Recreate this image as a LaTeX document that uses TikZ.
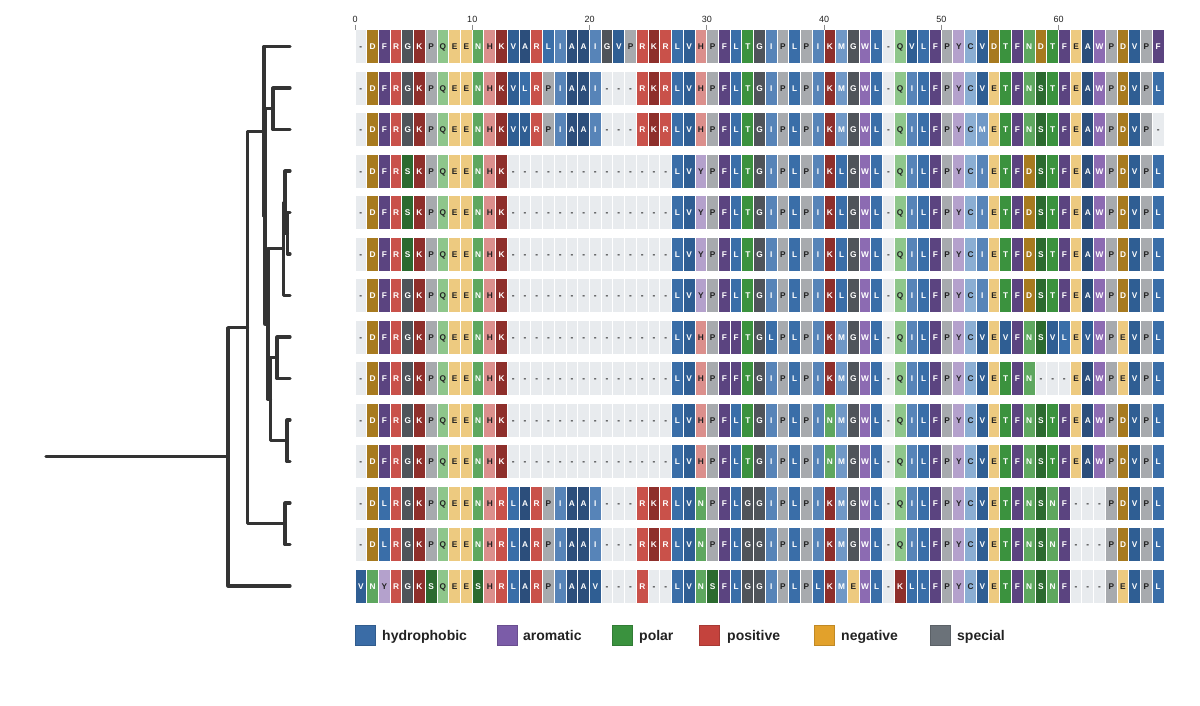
\documentclass[tikz,border=0pt]{standalone}
\usepackage{fontspec}
\setmainfont{Liberation Sans}
\definecolor{cA}{HTML}{2C4E7B}
\definecolor{cV}{HTML}{2F5E93}
\definecolor{cL}{HTML}{3A6EA8}
\definecolor{cI}{HTML}{5784B8}
\definecolor{cM}{HTML}{7098C6}
\definecolor{cC}{HTML}{8BAED3}
\definecolor{cF}{HTML}{5B4480}
\definecolor{cW}{HTML}{8C6BB2}
\definecolor{cY}{HTML}{B4A1CC}
\definecolor{cT}{HTML}{3B923E}
\definecolor{cS}{HTML}{2B6A2F}
\definecolor{cN}{HTML}{5EA75F}
\definecolor{cQ}{HTML}{8EC68B}
\definecolor{cR}{HTML}{C9514A}
\definecolor{cK}{HTML}{8E2F2B}
\definecolor{cH}{HTML}{DB8F8C}
\definecolor{cD}{HTML}{A77A1F}
\definecolor{cE}{HTML}{EDCA80}
\definecolor{cG}{HTML}{4F545A}
\definecolor{cP}{HTML}{A7AAAE}
\definecolor{cGap}{HTML}{E8EBEE}
\definecolor{txtdark}{HTML}{222222}
\definecolor{treecol}{HTML}{333333}
\definecolor{lgHyd}{HTML}{3A6CA6}
\definecolor{lgAro}{HTML}{7B5CA8}
\definecolor{lgPol}{HTML}{3A923E}
\definecolor{lgPos}{HTML}{C4433D}
\definecolor{lgNeg}{HTML}{E2A12B}
\definecolor{lgSpe}{HTML}{6B7279}
\newcount\colidx
\def\setres#1#2#3{\expandafter\def\csname rf#1\endcsname{#2}\expandafter\def\csname rt#1\endcsname{#3}}
\setres{A}{cA}{white}\setres{V}{cV}{white}\setres{L}{cL}{white}\setres{I}{cI}{white}
\setres{M}{cM}{white}\setres{C}{cC}{txtdark}\setres{F}{cF}{white}\setres{W}{cW}{white}
\setres{Y}{cY}{txtdark}\setres{T}{cT}{white}\setres{S}{cS}{white}\setres{N}{cN}{white}
\setres{Q}{cQ}{txtdark}\setres{R}{cR}{white}\setres{K}{cK}{white}\setres{H}{cH}{txtdark}
\setres{D}{cD}{white}\setres{E}{cE}{txtdark}\setres{G}{cG}{white}\setres{P}{cP}{txtdark}
\setres{-}{cGap}{txtdark}
\newcommand\seqcell[3]{%
  \pgfmathsetmacro\cx{355+#2*11.725}%
  \pgfmathsetmacro\cy{30+(#1-1)*41.5}%
  \edef\cf{\csname rf#3\endcsname}\edef\ct{\csname rt#3\endcsname}%
  \fill[fill=\cf] (\cx+0.5,\cy) rectangle (\cx+11.225,\cy+33);
  \node[res,text=\ct] (c#1-#2) at (\cx+5.8625,\cy+16.5) {#3};%
}
\def\seqrow#1#2{\def\currow{#1}\colidx=0 \seqloop#2\relax}
\def\seqloop#1{\ifx\relax#1\else\seqcell{\currow}{\the\colidx}{#1}\advance\colidx by 1 \expandafter\seqloop\fi}
\tikzset{
  res/.style={inner sep=0pt, font=\fontsize{8.3}{8.3}\selectfont\bfseries, text height=6pt, text depth=0pt},
  tree/.style={draw=treecol, line width=3.2pt, line cap=round, line join=round},
  tick/.style={draw=black!45, line width=0.8pt},
  ticklab/.style={font=\fontsize{9}{9}\selectfont, text=txtdark, inner sep=0pt},
  lgbox/.style={minimum size=20pt, inner sep=0pt, draw=#1!85!black, line width=0.6pt, fill=#1},
  lgtext/.style={anchor=west, inner sep=0pt, font=\fontsize{14}{14}\selectfont\bfseries, text=txtdark, text height=10.2pt, text depth=0pt}
}
\begin{document}
\begin{tikzpicture}[x=1pt,y=-1pt]
\useasboundingbox[fill=white] (0,0) rectangle (1200,705);
% axis
\foreach \k in {0,1,...,6}{
  \pgfmathsetmacro\tx{355+10*\k*11.725}
  \coordinate (t\k a) at (\tx,24.5);
  \coordinate (t\k b) at (\tx,29.5);
  \draw[tick] (t\k a) -- (t\k b);
  \pgfmathtruncatemacro\tv{10*\k}
  \node[ticklab] (tl\k) at (\tx,19) {\tv};
}
% alignment
\seqrow{1}{-DFRGKPQEENHKVARLIAAIGVPRKRLVHPFLTGIPLPIKMGWL-QVLFPYCVDTFNDTFEAWPDVPF}
\seqrow{2}{-DFRGKPQEENHKVLRPIAAI---RKRLVHPFLTGIPLPIKMGWL-QILFPYCVETFNSTFEAWPDVPL}
\seqrow{3}{-DFRGKPQEENHKVVRPIAAI---RKRLVHPFLTGIPLPIKMGWL-QILFPYCMETFNSTFEAWPDVP-}
\seqrow{4}{-DFRSKPQEENHK--------------LVYPFLTGIPLPIKLGWL-QILFPYCIETFDSTFEAWPDVPL}
\seqrow{5}{-DFRSKPQEENHK--------------LVYPFLTGIPLPIKLGWL-QILFPYCIETFDSTFEAWPDVPL}
\seqrow{6}{-DFRSKPQEENHK--------------LVYPFLTGIPLPIKLGWL-QILFPYCIETFDSTFEAWPDVPL}
\seqrow{7}{-DFRGKPQEENHK--------------LVYPFLTGIPLPIKLGWL-QILFPYCIETFDSTFEAWPDVPL}
\seqrow{8}{-DFRGKPQEENHK--------------LVHPFFTGLPLPIKMGWL-QILFPYCVEVFNSVLEVWPEVPL}
\seqrow{9}{-DFRGKPQEENHK--------------LVHPFFTGIPLPIKMGWL-QILFPYCVETFN---EAWPEVPL}
\seqrow{10}{-DFRGKPQEENHK--------------LVHPFLTGIPLPINMGWL-QILFPYCVETFNSTFEAWPDVPL}
\seqrow{11}{-DFRGKPQEENHK--------------LVHPFLTGIPLPINMGWL-QILFPYCVETFNSTFEAWPDVPL}
\seqrow{12}{-DLRGKPQEENHRLARPIAAI---RKRLVNPFLGGIPLPIKMGWL-QILFPYCVETFNSNF---PDVPL}
\seqrow{13}{-DLRGKPQEENHRLARPIAAI---RKRLVNPFLGGIPLPIKMGWL-QILFPYCVETFNSNF---PDVPL}
\seqrow{14}{VNYRGKSQEESHRLARPIAAV---R--LVNSFLGGIPLPLKMEWL-KLLFPYCVETFNSNF---PEVPL}
% tree leaves
\foreach \i in {1,...,14}{
  \pgfmathsetmacro\ly{46.5+(\i-1)*41.5}
  \coordinate (L\i) at (290,\ly);
}
% internal nodes
\coordinate (Na) at (273,108.75);
\coordinate (Ng) at (287.5,233.25);
\coordinate (Nh) at (285,202.125);
\coordinate (Nd) at (283.5,248.81);
\coordinate (Ni) at (277,357.75);
\coordinate (Nj) at (287,440.75);
\coordinate (Q3) at (270.5,399.25);
\coordinate (Q2) at (268,324.03);
\coordinate (Q1) at (265,216.39);
\coordinate (Q) at (264,131.45);
\coordinate (T) at (285,523.75);
\coordinate (P) at (247.5,327.6);
\coordinate (R) at (228,456.8);
\coordinate (R0) at (46,456.8);
\draw[tree] (L2) -- (L2 -| Na) -- (L3 -| Na) -- (L3);
\draw[tree] (L5) -- (L5 -| Ng) -- (L6 -| Ng) -- (L6);
\draw[tree] (L4) -- (L4 -| Nh) -- (Ng -| Nh) -- (Ng);
\draw[tree] (Nh) -- (Nh -| Nd) -- (L7 -| Nd) -- (L7);
\draw[tree] (L8) -- (L8 -| Ni) -- (L9 -| Ni) -- (L9);
\draw[tree] (L10) -- (L10 -| Nj) -- (L11 -| Nj) -- (L11);
\draw[tree] (Ni) -- (Ni -| Q3) -- (Nj -| Q3) -- (Nj);
\draw[tree] (Nd) -- (Nd -| Q2) -- (Q3 -| Q2) -- (Q3);
\draw[tree] (Na) -- (Na -| Q1) -- (Q2 -| Q1) -- (Q2);
\draw[tree] (L1) -- (L1 -| Q) -- (Q1 -| Q) -- (Q1);
\draw[tree] (L12) -- (L12 -| T) -- (L13 -| T) -- (L13);
\draw[tree] (Q) -- (Q -| P) -- (T -| P) -- (T);
\draw[tree] (P) -- (P -| R) -- (L14 -| R) -- (L14);
\draw[tree] (R0) -- (R);
% legend
\node[lgbox=lgHyd] (b1) at (365,635) {};
\node[lgtext] (g1) at (382,635) {hydrophobic};
\node[lgbox=lgAro] (b2) at (507,635) {};
\node[lgtext] (g2) at (523,635) {aromatic};
\node[lgbox=lgPol] (b3) at (622,635) {};
\node[lgtext] (g3) at (639,635) {polar};
\node[lgbox=lgPos] (b4) at (709,635) {};
\node[lgtext] (g4) at (727,635) {positive};
\node[lgbox=lgNeg] (b5) at (824,635) {};
\node[lgtext] (g5) at (841,635) {negative};
\node[lgbox=lgSpe] (b6) at (940,635) {};
\node[lgtext] (g6) at (957,635) {special};
\end{tikzpicture}
\end{document}
